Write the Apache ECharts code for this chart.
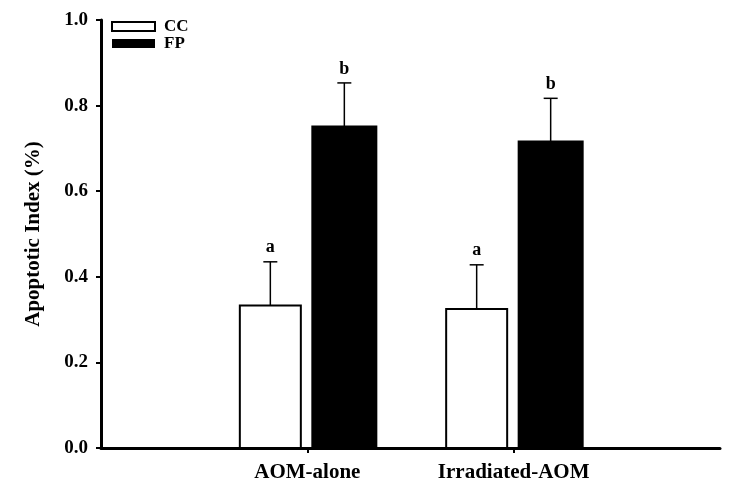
<!DOCTYPE html>
<html>
<head>
<meta charset="utf-8">
<script src="https://cdn.jsdelivr.net/npm/echarts@6/dist/echarts.min.js"></script>
<style>
  html, body { margin: 0; padding: 0; background: #fff; }
  #main { width: 750px; height: 492px; }
</style>
</head>
<body>
<div id="main"></div>
<script>
// positions on the axis: blank slots at both ends
const categories = ['', 'AOM-alone', 'Irradiated-AOM', ''];
const ccMeans = [null, 0.333, 0.325, null];
const ccErr = [null, 0.102, 0.103, null];
const ccLetters = ['', 'a', 'a', ''];
const fpMeans = [null, 0.751, 0.716, null];
const fpErr = [null, 0.102, 0.101, null];
const fpLetters = ['', 'b', 'b', ''];

const font = '"Liberation Serif", "Times New Roman", serif';

function barRenderer(fill, offset, w) {
    return function (params, api) {
        let idx = api.value(0);
        let mean = api.value(1);
        let err = api.value(2);
        let letter = api.value(3);
        let base = api.coord([idx, 0]);
        let top = api.coord([idx, mean]);
        let cap = api.coord([idx, mean + err]);
        let cx = base[0] + offset;
        return {
            type: 'group',
            children: [
                {
                    type: 'rect',
                    shape: { x: cx - w / 2, y: top[1], width: w, height: base[1] - top[1] },
                    style: { fill: fill, stroke: '#000', lineWidth: 2 }
                },
                {
                    type: 'line',
                    shape: { x1: cx, y1: top[1], x2: cx, y2: cap[1] },
                    style: { stroke: '#000', lineWidth: 1.5 }
                },
                {
                    type: 'line',
                    shape: { x1: cx - 7, y1: cap[1], x2: cx + 7, y2: cap[1] },
                    style: { stroke: '#000', lineWidth: 1.5 }
                },
                {
                    type: 'text',
                    style: {
                        x: cx, y: cap[1] - 5, text: letter,
                        textAlign: 'center', textVerticalAlign: 'bottom',
                        font: 'bold 18px ' + font, fill: '#000'
                    }
                }
            ]
        };
    };
}

function toData(means, errs, letters) {
    let out = [];
    means.forEach(function (m, i) {
        if (m !== null) out.push([i, m, errs[i], letters[i]]);
    });
    return out;
}

let myChart = echarts.init(document.getElementById('main'));
myChart.setOption({
    animation: false,
    backgroundColor: '#fff',
    grid: { left: 101, right: 30, top: 20, bottom: 44 },
    legend: {
        orient: 'vertical',
        left: 106,
        top: 13,
        padding: 5,
        itemWidth: 43,
        itemHeight: 9,
        itemGap: 0,
        textStyle: { fontFamily: font, fontWeight: 'bold', fontSize: 17, color: '#000', padding: [0, 0, 0, 4] },
        data: [
            { name: 'CC', icon: 'rect', itemStyle: { color: '#fff', borderColor: '#000', borderWidth: 2 } },
            { name: 'FP', icon: 'rect', itemStyle: { color: '#000', borderColor: '#000', borderWidth: 0 } }
        ]
    },
    xAxis: {
        type: 'category',
        data: categories,
        boundaryGap: false,
        axisLine: { lineStyle: { color: '#000', width: 3 } },
        axisTick: {
            length: 5,
            lineStyle: { color: '#000', width: 2 },
            interval: function (i) { return i === 1 || i === 2; }
        },
        axisLabel: {
            interval: 0,
            margin: 14,
            fontFamily: font, fontWeight: 'bold', fontSize: 21, color: '#000'
        },
        splitLine: { show: false }
    },
    yAxis: {
        type: 'value',
        min: 0,
        max: 1.0,
        interval: 0.2,
        name: 'Apoptotic Index (%)',
        nameLocation: 'middle',
        nameGap: 57,
        nameTextStyle: { fontFamily: font, fontWeight: 'bold', fontSize: 21, color: '#000' },
        axisLine: { show: true, lineStyle: { color: '#000', width: 3 } },
        axisTick: { show: true, length: 5, lineStyle: { color: '#000', width: 2 } },
        axisLabel: {
            margin: 13,
            fontFamily: font, fontWeight: 'bold', fontSize: 19, color: '#000',
            formatter: function (v) { return v.toFixed(1); }
        },
        splitLine: { show: false }
    },
    series: [
        {
            name: 'CC',
            type: 'custom',
            renderItem: barRenderer('#fff', -37, 61),
            itemStyle: { color: '#fff', borderColor: '#000' },
            data: toData(ccMeans, ccErr, ccLetters),
            encode: { x: 0, y: 1 }
        },
        {
            name: 'FP',
            type: 'custom',
            renderItem: barRenderer('#000', 37, 64),
            itemStyle: { color: '#000' },
            data: toData(fpMeans, fpErr, fpLetters),
            encode: { x: 0, y: 1 }
        }
    ]
});
</script>
</body>
</html>
